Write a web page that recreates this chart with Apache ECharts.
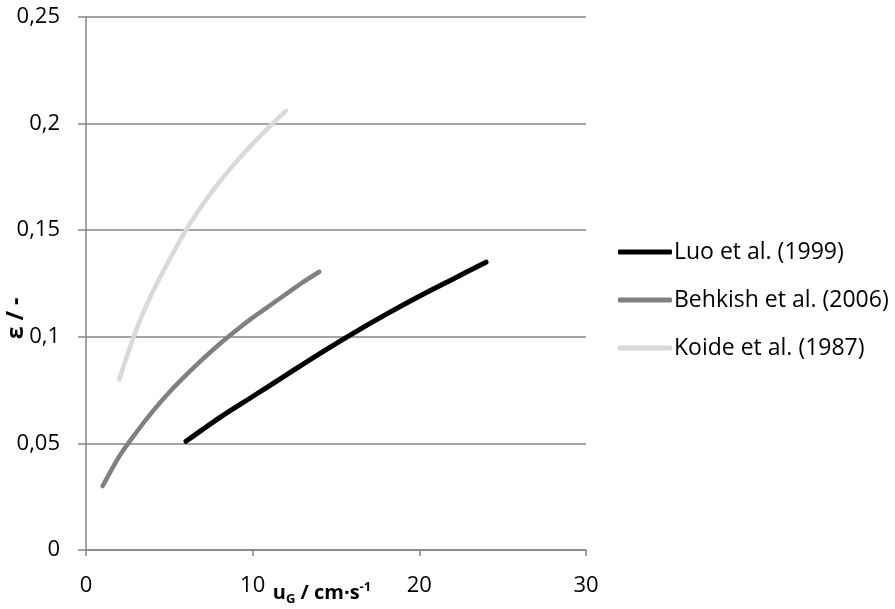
<!DOCTYPE html>
<html>
<head>
<meta charset="utf-8">
<script src="https://cdn.jsdelivr.net/npm/echarts@6/dist/echarts.min.js"></script>
<style>
  html, body { margin: 0; padding: 0; background: #fff; }
  #chart { width: 895px; height: 609px; }
</style>
</head>
<body>
<div id="chart"></div>
<script>
// Gas holdup correlations vs. superficial gas velocity
const luoX = [6, 8, 10, 12, 14, 16, 18, 20, 22, 24];
const luoY = [0.051, 0.062, 0.072, 0.082, 0.092, 0.1015, 0.1105, 0.119, 0.127, 0.135];

const behkishX = [1, 2, 3, 4, 5, 6, 7, 8, 9, 10, 11, 12, 13, 14];
const behkishY = [0.030, 0.044, 0.055, 0.065, 0.074, 0.082, 0.0895, 0.0965, 0.103, 0.109, 0.1145, 0.120, 0.1255, 0.1305];

const koideX = [2, 3, 4, 5, 6, 7, 8, 9, 10, 11, 12];
const koideY = [0.080, 0.103, 0.121, 0.136, 0.150, 0.162, 0.1725, 0.182, 0.1905, 0.1985, 0.206];

const seriesNames = ['Luo et al. (1999)', 'Behkish et al. (2006)', 'Koide et al. (1987)'];
const seriesColors = ['#000000', '#808080', '#d9d9d9'];
const seriesWidths = [5, 4.5, 4.5];

const xTicks = [0, 10, 20, 30];
const yTicks = [0, 0.05, 0.1, 0.15, 0.2, 0.25];

const FONT = '"Open Sans", sans-serif';
const GRID_GREY = '#868686';

function pairs(xs, ys) {
  return xs.map((x, i) => [x, ys[i]]);
}

const chart = echarts.init(document.getElementById('chart'), null, { renderer: 'canvas' });

const seriesData = [pairs(luoX, luoY), pairs(behkishX, behkishY), pairs(koideX, koideY)];

chart.setOption({
  animation: false,
  backgroundColor: '#ffffff',
  grid: { left: 86, right: 309, top: 17, bottom: 59, containLabel: false, outerBoundsMode: 'none' },
  legend: {
    orient: 'vertical',
    left: 613,
    top: 235,
    itemWidth: 54,
    itemHeight: 5,
    itemGap: 24,
    data: seriesNames.map((n) => ({ name: n, icon: 'roundRect' })),
    textStyle: { fontFamily: FONT, fontSize: 23, color: '#000', lineHeight: 24, padding: [0, 0, 0, -3] }
  },
  xAxis: {
    type: 'value',
    min: xTicks[0],
    max: xTicks[xTicks.length - 1],
    interval: 10,
    axisLine: { show: true, onZero: false, lineStyle: { color: GRID_GREY, width: 1.5 } },
    axisTick: { show: true, length: 6, lineStyle: { color: GRID_GREY, width: 1.5 } },
    splitLine: { show: false },
    axisLabel: { fontFamily: FONT, fontSize: 22, color: '#000', margin: 25 },
    name: '{u|u}{sub|G}{u| / cm·s}{sup|-1}',
    nameLocation: 'middle',
    nameMoveOverlap: false,
    nameGap: 31,
    nameTextStyle: {
      padding: [0, 28, 0, 0],
      rich: {
        u: { fontFamily: FONT, fontSize: 20, fontWeight: 'bold', color: '#000' },
        sub: { fontFamily: FONT, fontSize: 13, fontWeight: 'bold', color: '#000', verticalAlign: 'bottom', padding: [12, 0, 0, 0] },
        sup: { fontFamily: FONT, fontSize: 13, fontWeight: 'bold', color: '#000', verticalAlign: 'top', padding: [0, 0, 10, 0] }
      }
    }
  },
  yAxis: {
    type: 'value',
    min: yTicks[0],
    max: yTicks[yTicks.length - 1],
    interval: 0.05,
    axisLine: { show: true, lineStyle: { color: GRID_GREY, width: 1.5 } },
    axisTick: { show: true, length: 8, lineStyle: { color: GRID_GREY, width: 1.5 } },
    splitLine: { show: true, lineStyle: { color: GRID_GREY, width: 1.5 } },
    axisLabel: {
      fontFamily: FONT, fontSize: 22, color: '#000', margin: 26,
      formatter: (v) => String(Math.round(v * 100) / 100).replace('.', ',')
    },
    name: 'ε / -',
    nameLocation: 'middle',
    nameMoveOverlap: false,
    nameRotate: 90,
    nameGap: 58,
    nameTextStyle: { fontFamily: FONT, fontSize: 23, fontWeight: 'bold', color: '#000', padding: [0, 70, 0, 0] }
  },
  series: seriesNames.map((name, i) => ({
    name: name,
    type: 'line',
    data: seriesData[i],
    smooth: 0.3,
    showSymbol: false,
    symbol: 'none',
    color: seriesColors[i],
    lineStyle: { color: seriesColors[i], width: seriesWidths[i], cap: 'round', join: 'round' }
  }))
});
</script>
</body>
</html>
